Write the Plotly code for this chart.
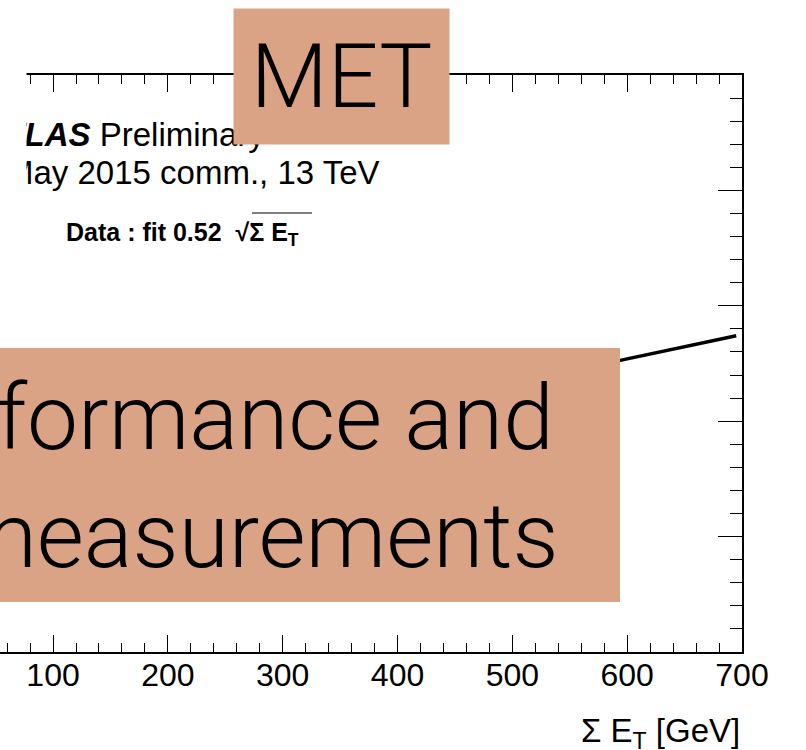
import plotly.graph_objects as go

# ---- data ----
sum_et = [100, 200, 300, 400, 500, 600, 695]
fit_resolution = [5.2, 7.35, 9.0, 10.4, 11.6, 12.7, 13.7]
x_tick_values = [100, 200, 300, 400, 500, 600, 700]
x_tick_labels = ["100", "200", "300", "400", "500", "600", "700"]
y_tick_values = [0, 5, 10, 15, 20, 25]

W, H = 806, 750
L, R, T, B = 0, 64, 75, 98
PW = W - L - R
PH = H - T - B

BOX = "#DBA386"
SANS = "Liberation Sans, Arial, Helvetica, sans-serif"
LIGHT = "Roboto, Liberation Sans, sans-serif"


def px(x):
    return (x - L) / PW


def py(y):
    return (H - B - y) / PH


fig = go.Figure()
fig.add_trace(go.Scatter(
    x=sum_et, y=fit_resolution, mode="lines",
    line=dict(color="black", width=3.5), showlegend=False, hoverinfo="skip",
))

fig.update_layout(
    width=W, height=H,
    margin=dict(l=L, r=R, t=T, b=B, pad=0),
    paper_bgcolor="white", plot_bgcolor="white",
    showlegend=False,
    xaxis=dict(
        range=[53.8, 700], tickvals=x_tick_values, ticktext=x_tick_labels,
        ticks="inside", ticklen=17, tickwidth=1.3, tickcolor="black",
        showline=True, linecolor="black", linewidth=1.6, mirror="allticks",
        showgrid=False, zeroline=False, ticklabelstandoff=-6,
        tickfont=dict(family=SANS, size=32, color="black"),
        minor=dict(dtick=20, ticks="inside", ticklen=9, tickwidth=1.1, tickcolor="black", showgrid=False),
    ),
    yaxis=dict(
        range=[0, 25], tickvals=y_tick_values, side="right",
        ticks="inside", ticklen=24, tickwidth=1.3, tickcolor="black",
        showline=True, linecolor="black", linewidth=1.6, mirror=False,
        showgrid=False, zeroline=False, showticklabels=False,
        minor=dict(dtick=1, ticks="inside", ticklen=12, tickwidth=1.1, tickcolor="black", showgrid=False),
    ),
)

annotations = [
    dict(text="<b><i>ATLAS</i></b> Preliminary", x=px(-20), y=py(134),
         xanchor="left", yanchor="middle", font=dict(family=SANS, size=33, color="black")),
    dict(text="May 2015 comm., 13 TeV", x=px(4), y=py(172),
         xanchor="left", yanchor="middle", font=dict(family=SANS, size=33, color="black")),
    dict(text="<b>Data : fit 0.52  \u221a\u03a3 E<sub>T</sub></b>", x=px(64), y=py(234),
         xanchor="left", yanchor="middle", font=dict(family=SANS, size=25, color="black")),
    # white mask on the left, hiding the cut-off part of the slide picture
    dict(text=" ", x=px(27), y=py(-5), xanchor="right", yanchor="top", width=70, height=230,
         bgcolor="white", borderpad=0, font=dict(size=10)),
    dict(text="MET", x=px(233), y=py(8), xanchor="left", yanchor="top", width=215, height=135,
         bgcolor=BOX, borderpad=0, font=dict(family=LIGHT, size=89, color="black", weight=300)),
    dict(text="Performance and", x=px(556), y=py(418), xanchor="right", yanchor="middle",
         font=dict(family=LIGHT, size=91, color="black", weight=300)),
    dict(text="measurements", x=px(561), y=py(536), xanchor="right", yanchor="middle",
         font=dict(family=LIGHT, size=91, color="black", weight=300)),
    dict(text="\u03a3 E<sub>T</sub> [GeV]", x=px(742), y=py(733), xanchor="right", yanchor="middle",
         font=dict(family=SANS, size=33, color="black")),
]
for a in annotations:
    a.update(xref="paper", yref="paper", showarrow=False)
fig.update_layout(annotations=annotations)

fig.add_shape(type="rect", xref="paper", yref="paper", layer="above",
              x0=px(-10), x1=px(620), y0=py(602), y1=py(348),
              fillcolor=BOX, line=dict(width=0))
fig.add_shape(type="line", xref="paper", yref="paper", layer="above",
              x0=px(252), x1=px(312), y0=py(213), y1=py(213),
              line=dict(color="black", width=1.2))

fig.write_html("out.html", config={"displayModeBar": False},
               post_script="document.body.style.margin='0';")
